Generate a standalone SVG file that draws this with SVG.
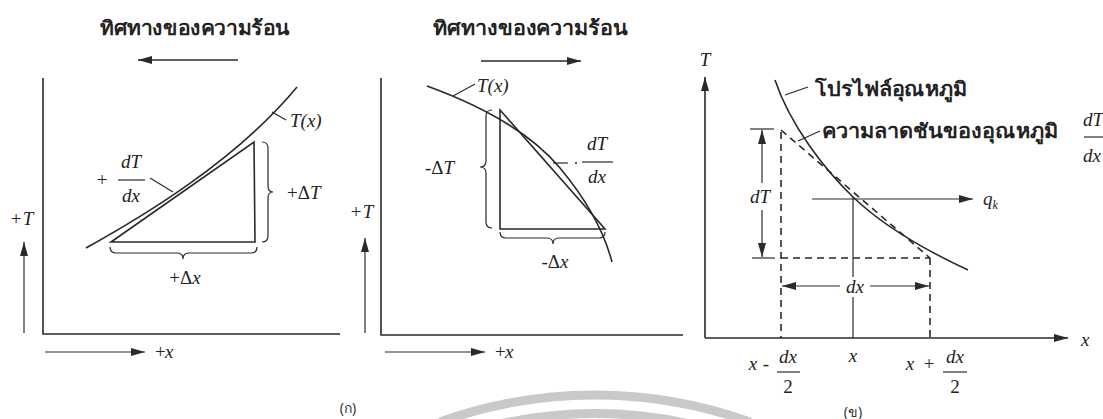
<svg xmlns="http://www.w3.org/2000/svg" width="1103" height="419" viewBox="0 0 1103 419">
<style>
.ln{stroke:#2a2a2a;stroke-width:1.6;fill:none}
.thin{stroke:#2a2a2a;stroke-width:1.2;fill:none}
.dash{stroke:#2a2a2a;stroke-width:1.6;fill:none;stroke-dasharray:7,5}
.m{font-family:"Liberation Serif","DejaVu Serif",serif;font-style:italic;fill:#222;font-size:19px}
.mu{font-family:"Liberation Serif","DejaVu Serif",serif;fill:#222;font-size:19px}
.th{font-family:"Noto Sans","DejaVu Sans",sans-serif;font-weight:bold;fill:#222;font-size:20px}
.cap{font-family:"Noto Sans","DejaVu Sans",sans-serif;fill:#333;font-size:14px}
.wm{stroke:#c9c9c9;stroke-width:9;fill:none}
</style>
<defs>
<marker id="ah" viewBox="0 0 14 8" refX="14" refY="4" markerWidth="14" markerHeight="8" markerUnits="userSpaceOnUse" orient="auto">
<path d="M0,0 L14,4 L0,8 z" fill="#2a2a2a"/>
</marker>
</defs>

<g id="watermark">
<path class="wm" d="M440,422 A457,457 0 0 1 750,422"/>
<path class="wm" d="M500,424 A441,441 0 0 1 690,424" stroke-width="6"/>
</g>

<g id="panel-a-left">
<text class="th" x="100" y="35" textLength="190" lengthAdjust="spacingAndGlyphs">ทิศทางของความร้อน</text>
<line class="ln" x1="238" y1="60" x2="138" y2="60" marker-end="url(#ah)"/>
<polyline class="ln" points="43,78 43,334 340,334"/>
<line class="thin" x1="24" y1="333" x2="24" y2="242" marker-end="url(#ah)"/>
<text class="mu" x="16" y="225" font-size="15" text-anchor="middle">+</text>
<text class="m" x="28" y="225" text-anchor="middle">T</text>
<line class="thin" x1="45" y1="352" x2="145" y2="352" marker-end="url(#ah)"/>
<text class="mu" x="155" y="358" font-size="15">+</text>
<text class="m" x="165" y="358">x</text>
<path class="ln" d="M86,248 C140,218 235,162 297,87"/>
<polygon class="ln" points="111,242 254,142 255,242"/>
<line class="thin" x1="272" y1="112" x2="286" y2="120"/>
<text class="m" x="290" y="127">T(x)</text>
<path class="thin" d="M262,142 Q268,142 268,148 L268,186 Q268,192 273,192 Q268,192 268,198 L268,236 Q268,242 262,242"/>
<text class="mu" x="287" y="199">+Δ<tspan class="m">T</tspan></text>
<path class="thin" d="M110,247 Q110,253 116,253 L177,253 Q183,253 183,259 Q183,253 189,253 L251,253 Q257,253 257,247"/>
<text class="mu" x="185" y="284" text-anchor="middle">+Δ<tspan class="m">x</tspan></text>
<text class="mu" x="102" y="186" font-size="15" text-anchor="middle">+</text>
<text class="m" x="131" y="168" font-size="18" text-anchor="middle">dT</text>
<line class="thin" x1="118" y1="180" x2="145" y2="180"/>
<text class="m" x="131" y="202" font-size="18" text-anchor="middle">dx</text>
<line class="thin" x1="150" y1="178" x2="173" y2="192"/>
<text class="cap" x="348" y="413" text-anchor="middle">(ก)</text>
</g>

<g id="panel-a-right">
<text class="th" x="433" y="35" textLength="195" lengthAdjust="spacingAndGlyphs">ทิศทางของความร้อน</text>
<line class="ln" x1="481" y1="61" x2="581" y2="61" marker-end="url(#ah)"/>
<polyline class="ln" points="381,78 381,335 683,335"/>
<line class="thin" x1="365" y1="333" x2="365" y2="238" marker-end="url(#ah)"/>
<text class="mu" x="356" y="218" font-size="15" text-anchor="middle">+</text>
<text class="m" x="368" y="218" text-anchor="middle">T</text>
<line class="thin" x1="385" y1="352" x2="485" y2="352" marker-end="url(#ah)"/>
<text class="mu" x="495" y="358" font-size="15">+</text>
<text class="m" x="505" y="358">x</text>
<path class="ln" d="M427,86 Q520,120 560,168 T612,262"/>
<polygon class="ln" points="500,110 605,229 500,229"/>
<line class="thin" x1="453" y1="96" x2="475" y2="84"/>
<text class="m" x="477" y="92">T(x)</text>
<path class="thin" d="M492,110 Q486,110 486,116 L486,161 Q486,167 480,167 Q486,167 486,173 L486,222 Q486,228 492,228"/>
<text class="mu" x="425" y="174">-Δ<tspan class="m">T</tspan></text>
<path class="thin" d="M500,232 Q500,238 506,238 L547,238 Q553,238 553,244 Q553,238 559,238 L599,238 Q605,238 605,232"/>
<text class="mu" x="555" y="268" text-anchor="middle">-Δ<tspan class="m">x</tspan></text>
<line class="thin" x1="553" y1="163" x2="568" y2="163"/>
<circle cx="576" cy="163" r="1" fill="#2a2a2a"/>
<text class="m" x="597" y="150" font-size="18" text-anchor="middle">dT</text>
<line class="thin" x1="582" y1="162" x2="613" y2="162"/>
<text class="m" x="597" y="183" font-size="18" text-anchor="middle">dx</text>
</g>

<g id="panel-b">
<line class="ln" x1="705" y1="338" x2="705" y2="77" marker-end="url(#ah)"/>
<text class="m" x="705" y="66" text-anchor="middle">T</text>
<line class="ln" x1="705" y1="338" x2="1068" y2="338" marker-end="url(#ah)"/>
<text class="m" x="1081" y="346" font-size="16">x</text>
<path class="ln" d="M775,80 C790,125 825,170 853,197 S925,250 968,270"/>
<line class="dash" x1="781" y1="130" x2="930" y2="258"/>
<line class="dash" x1="781" y1="132" x2="781" y2="338"/>
<line class="dash" x1="930" y1="258" x2="930" y2="338"/>
<line class="dash" x1="781" y1="258" x2="930" y2="258"/>
<line class="thin" x1="750" y1="129" x2="774" y2="129"/>
<line class="thin" x1="752" y1="258" x2="775" y2="258"/>
<line class="thin" x1="762" y1="183" x2="762" y2="130" marker-end="url(#ah)"/>
<line class="thin" x1="762" y1="210" x2="762" y2="257" marker-end="url(#ah)"/>
<text class="m" x="760" y="203" text-anchor="middle">dT</text>
<line class="thin" x1="812" y1="199" x2="973" y2="199" marker-end="url(#ah)"/>
<text class="m" x="983" y="205">q<tspan font-size="12" dy="4">k</tspan></text>
<line class="thin" x1="853" y1="197" x2="853" y2="277"/>
<line class="thin" x1="853" y1="297" x2="853" y2="338"/>
<line class="thin" x1="840" y1="286" x2="782" y2="286" marker-end="url(#ah)"/>
<line class="thin" x1="870" y1="286" x2="929" y2="286" marker-end="url(#ah)"/>
<text class="m" x="855" y="293" text-anchor="middle">dx</text>
<line class="thin" x1="785" y1="95" x2="808" y2="87"/>
<text class="th" x="815" y="96" textLength="152" lengthAdjust="spacingAndGlyphs">โปรไฟล์อุณหภูมิ</text>
<line class="thin" x1="798" y1="141" x2="820" y2="131"/>
<text class="th" x="822" y="138" textLength="236" lengthAdjust="spacingAndGlyphs">ความลาดชันของอุณหภูมิ</text>
<text class="m" x="1093" y="126" font-size="16" text-anchor="middle">dT</text>
<line class="thin" x1="1084" y1="137" x2="1103" y2="137"/>
<text class="m" x="1092" y="162" font-size="16" text-anchor="middle">dx</text>
<text class="m" x="753" y="370" font-size="17" text-anchor="middle">x</text>
<text class="mu" x="766" y="370" font-size="15" text-anchor="middle">-</text>
<text class="m" x="788" y="363" font-size="17" text-anchor="middle">dx</text>
<line class="thin" x1="777" y1="372" x2="800" y2="372"/>
<text class="mu" x="788" y="393" font-size="17" text-anchor="middle">2</text>
<text class="m" x="853" y="362" font-size="17" text-anchor="middle">x</text>
<text class="m" x="910" y="370" font-size="17" text-anchor="middle">x</text>
<text class="mu" x="929" y="370" font-size="15" text-anchor="middle">+</text>
<text class="m" x="955" y="363" font-size="17" text-anchor="middle">dx</text>
<line class="thin" x1="943" y1="372" x2="967" y2="372"/>
<text class="mu" x="955" y="393" font-size="17" text-anchor="middle">2</text>
<text class="cap" x="853" y="417" text-anchor="middle">(ข)</text>
</g>
</svg>
